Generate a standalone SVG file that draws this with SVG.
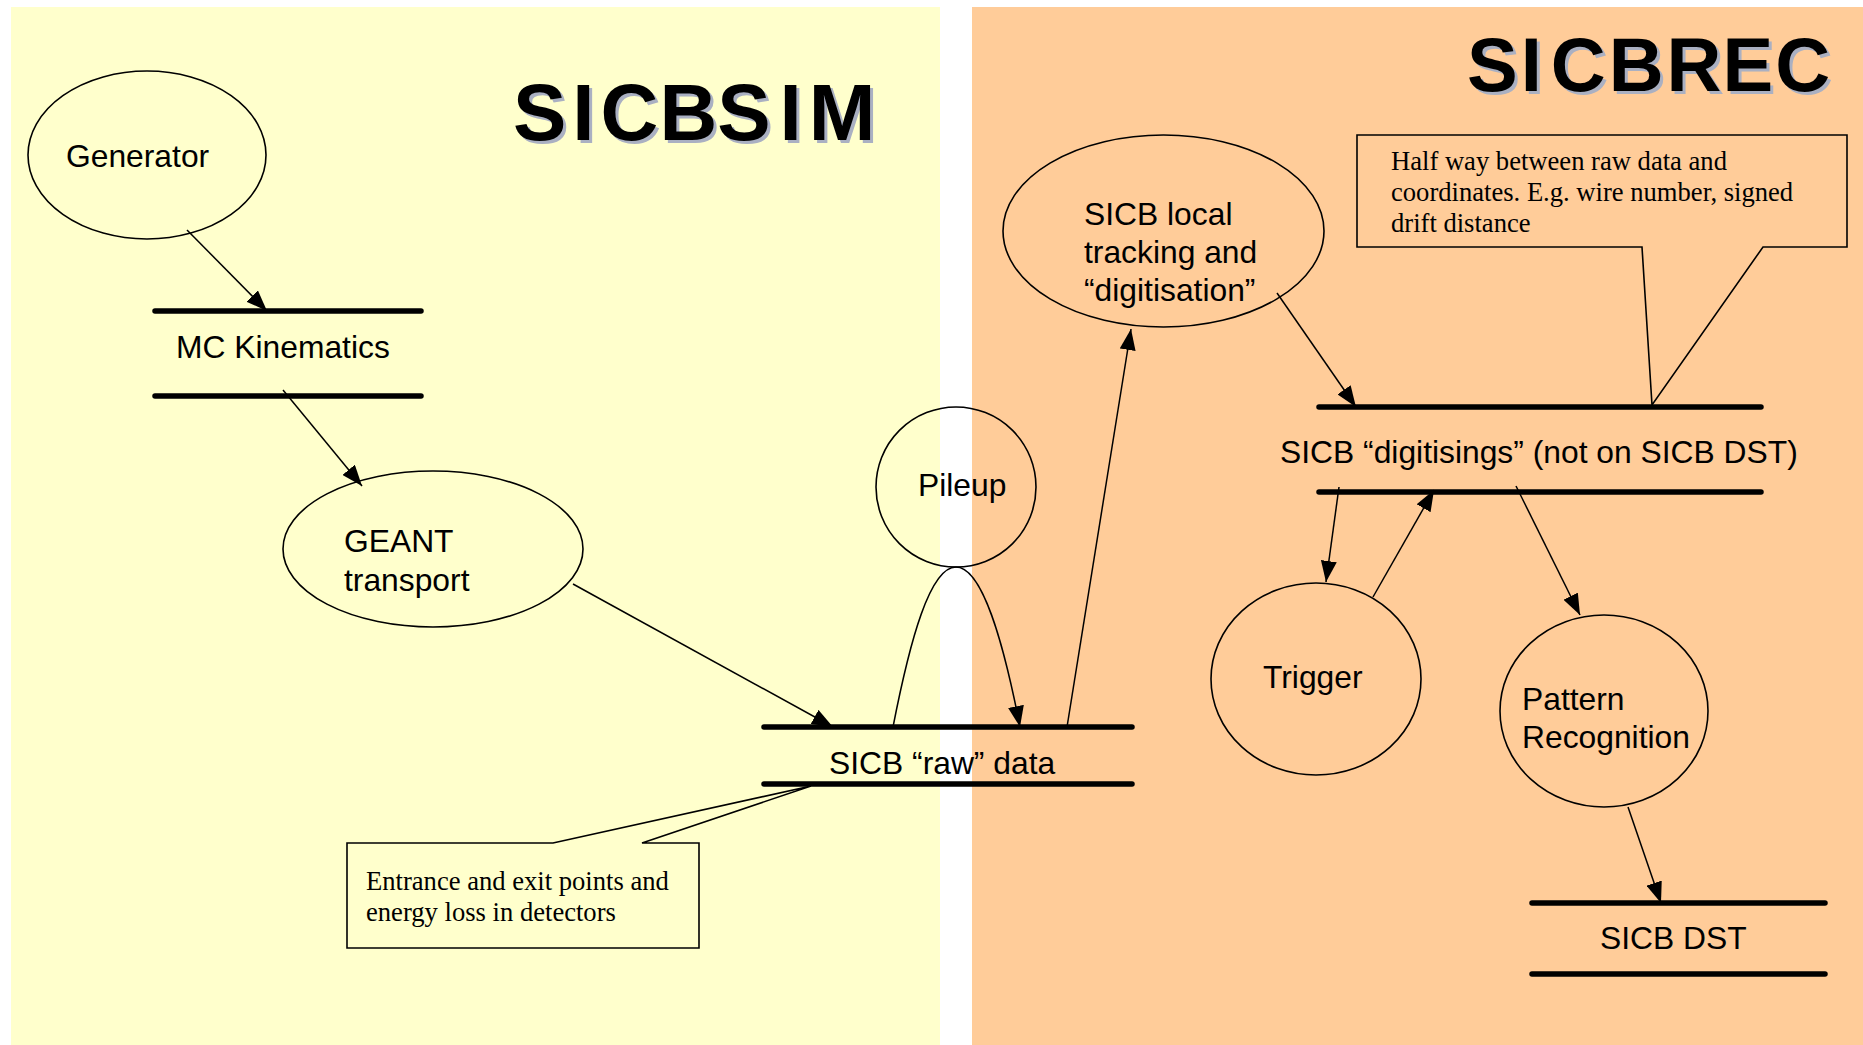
<svg xmlns="http://www.w3.org/2000/svg" width="1863" height="1045" viewBox="0 0 1863 1045">
<defs>
<marker id="ah" markerUnits="userSpaceOnUse" markerWidth="22" markerHeight="16" refX="21" refY="8" orient="auto">
<path d="M0,0 L21,8 L0,16 z" fill="#000"/>
</marker>
<style>
.lbl{font-family:"Liberation Sans",Arial,sans-serif;font-size:31.8px;fill:#000}
.note{font-family:"Liberation Serif","Times New Roman",serif;font-size:26.6px;fill:#000}
.title{font-family:"Liberation Sans",Arial,sans-serif;font-weight:bold;fill:#000}
.shadow{font-family:"Liberation Sans",Arial,sans-serif;font-weight:bold;fill:#aab0c2}
.shape{fill:none;stroke:#000;stroke-width:1.6}
.store{stroke:#000;stroke-width:5.5;stroke-linecap:round}
.conn{fill:none;stroke:#000;stroke-width:1.5}
</style>
</defs>
<rect x="11" y="7" width="929" height="1038" fill="#FFFFCC"/>
<rect x="972" y="7" width="891" height="1038" fill="#FFCC99"/>

<g id="title-sicbsim">
<text class="shadow" x="516" y="143" font-size="80" dx="0 6 6 1 0 9 7">SICBSIM</text>
<text class="title" x="513" y="140" font-size="80" dx="0 6 6 1 0 9 7">SICBSIM</text>
</g>
<g id="title-sicbrec">
<text class="shadow" x="1470" y="94" font-size="76" dx="0 3 9 3 3 1 2">SICBREC</text>
<text class="title" x="1467" y="91" font-size="76" dx="0 3 9 3 3 1 2">SICBREC</text>
</g>

<g id="connectors">
<line class="conn" x1="187" y1="230" x2="267" y2="311" marker-end="url(#ah)"/>
<line class="conn" x1="283" y1="390" x2="362" y2="486" marker-end="url(#ah)"/>
<line class="conn" x1="573" y1="584" x2="833" y2="727" marker-end="url(#ah)"/>
<path class="conn" d="M893,727 C910,640 930,567 956,567"/>
<path class="conn" d="M956,567 C982,567 1003,640 1020,727" marker-end="url(#ah)"/>
<line class="conn" x1="1067" y1="727" x2="1131" y2="329" marker-end="url(#ah)"/>
<line class="conn" x1="1277" y1="293" x2="1356" y2="407" marker-end="url(#ah)"/>
<line class="conn" x1="1339" y1="487" x2="1326" y2="582" marker-end="url(#ah)"/>
<line class="conn" x1="1373" y1="597" x2="1434" y2="490" marker-end="url(#ah)"/>
<line class="conn" x1="1516" y1="486" x2="1580" y2="615" marker-end="url(#ah)"/>
<line class="conn" x1="1628" y1="807" x2="1661" y2="903" marker-end="url(#ah)"/>
</g>

<g id="generator">
<ellipse class="shape" cx="147" cy="155" rx="119" ry="84"/>
<text class="lbl" x="66" y="167">Generator</text>
</g>

<g id="mc-kinematics">
<line class="store" x1="155" y1="311" x2="421" y2="311"/>
<line class="store" x1="155" y1="396" x2="421" y2="396"/>
<text class="lbl" x="176" y="358">MC Kinematics</text>
</g>

<g id="geant">
<ellipse class="shape" cx="433" cy="549" rx="150" ry="78"/>
<text class="lbl" x="344" y="552">GEANT</text>
<text class="lbl" x="344" y="591">transport</text>
</g>

<g id="pileup">
<circle class="shape" cx="956" cy="487" r="80"/>
<text class="lbl" x="918" y="496">Pileup</text>
</g>

<g id="raw-data">
<line class="store" x1="764" y1="727" x2="1132" y2="727"/>
<line class="store" x1="764" y1="784" x2="1132" y2="784"/>
<text class="lbl" x="829" y="774">SICB “raw” data</text>
</g>

<g id="note-entrance">
<path d="M347,843 L553,843 L811,786 L642,843 L699,843 L699,948 L347,948 Z" fill="#FFFFCC" stroke="#000" stroke-width="1.6"/>
<text class="note" x="366" y="890">Entrance and exit points and</text>
<text class="note" x="366" y="921">energy loss in detectors</text>
</g>

<g id="local-tracking">
<ellipse class="shape" cx="1163.5" cy="231" rx="160.5" ry="96"/>
<text class="lbl" x="1084" y="225">SICB local</text>
<text class="lbl" x="1084" y="263">tracking and</text>
<text class="lbl" x="1084" y="301">“digitisation”</text>
</g>

<g id="note-halfway">
<path d="M1357,135 L1847,135 L1847,247 L1763,247 L1652,405 L1642,247 L1357,247 Z" fill="#FFCC99" stroke="#000" stroke-width="1.6"/>
<text class="note" x="1391" y="170">Half way between raw data and</text>
<text class="note" x="1391" y="201">coordinates. E.g. wire number, signed</text>
<text class="note" x="1391" y="232">drift distance</text>
</g>

<g id="digitisings">
<line class="store" x1="1319" y1="407" x2="1761" y2="407"/>
<line class="store" x1="1319" y1="492" x2="1761" y2="492"/>
<text class="lbl" x="1280" y="463">SICB “digitisings” (not on SICB DST)</text>
</g>

<g id="trigger">
<ellipse class="shape" cx="1316" cy="679" rx="105" ry="96"/>
<text class="lbl" x="1263" y="688">Trigger</text>
</g>

<g id="pattern-recognition">
<ellipse class="shape" cx="1604" cy="711" rx="104" ry="96"/>
<text class="lbl" x="1522" y="710">Pattern</text>
<text class="lbl" x="1522" y="748">Recognition</text>
</g>

<g id="sicb-dst">
<line class="store" x1="1532" y1="903" x2="1825" y2="903"/>
<line class="store" x1="1532" y1="974" x2="1825" y2="974"/>
<text class="lbl" x="1600" y="949">SICB DST</text>
</g>
</svg>
